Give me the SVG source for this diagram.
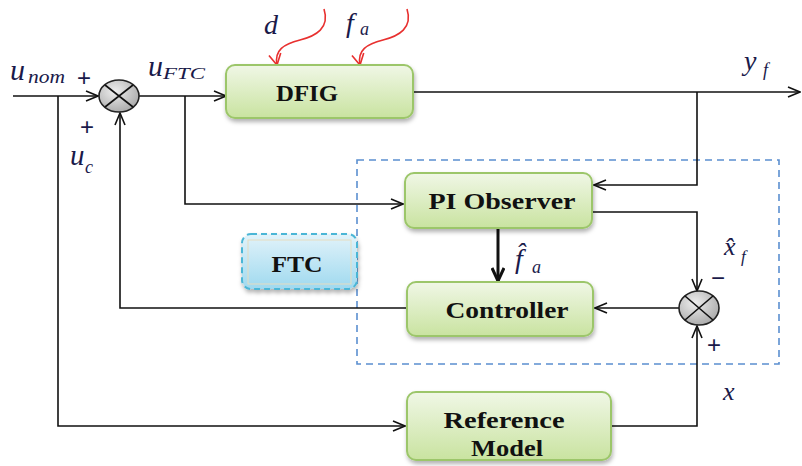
<svg xmlns="http://www.w3.org/2000/svg" width="802" height="466" viewBox="0 0 802 466">
<defs>
<linearGradient id="gGreen" x1="0" y1="0" x2="0" y2="1">
<stop offset="0" stop-color="#f0f7e6"/>
<stop offset="1" stop-color="#c9e3a0"/>
</linearGradient>
<linearGradient id="gBlue" x1="0" y1="0" x2="0" y2="1">
<stop offset="0" stop-color="#e2f3fa"/>
<stop offset="1" stop-color="#9fd9ef"/>
</linearGradient>
<radialGradient id="gGray" cx="0.4" cy="0.35" r="0.7">
<stop offset="0" stop-color="#eeeeee"/>
<stop offset="1" stop-color="#a8a8a8"/>
</radialGradient>
<filter id="sh" x="-10%" y="-10%" width="130%" height="140%">
<feDropShadow dx="1" dy="3" stdDeviation="2" flood-color="#000" flood-opacity="0.3"/>
</filter>
<marker id="arr" viewBox="0 0 14 12" refX="13" refY="6" markerWidth="14" markerHeight="12" markerUnits="userSpaceOnUse" orient="auto">
<path d="M1,1 L13,6 L1,11" fill="none" stroke="#111" stroke-width="1.6"/>
</marker>
<marker id="arrT" viewBox="0 0 16 14" refX="14" refY="7" markerWidth="16" markerHeight="14" markerUnits="userSpaceOnUse" orient="auto">
<path d="M1,1 L14,7 L1,13" fill="none" stroke="#111" stroke-width="3"/>
</marker>
<marker id="arrR" viewBox="0 0 14 14" refX="12" refY="7" markerWidth="14" markerHeight="14" markerUnits="userSpaceOnUse" orient="auto">
<path d="M1,1 L12,7 L1,13" fill="none" stroke="#e8302f" stroke-width="1.6"/>
</marker>
</defs>
<style>
.box{fill:url(#gGreen);stroke:#9cc66a;stroke-width:2;filter:url(#sh)}
.bt{font-family:"Liberation Serif","Times New Roman",serif;font-weight:bold;font-size:24px;fill:#111;text-anchor:middle}
.ln{fill:none;stroke:#111;stroke-width:1.6}
.m{font-family:"Liberation Serif","Times New Roman",serif;font-style:italic;fill:#1a1a4a}
.sgn{font-family:"Liberation Sans",sans-serif;fill:#1a1a4a;font-size:24px}
.sum{fill:url(#gGray);stroke:#222;stroke-width:1.6}
.red{fill:none;stroke:#e8302f;stroke-width:1.6}
</style>

<rect x="357" y="160" width="422" height="204" fill="none" stroke="#5b8fd0" stroke-width="1.6" stroke-dasharray="7,5"/>

<g id="connectors">
<path class="ln" d="M13,96 L98,96" marker-end="url(#arr)"/>
<path class="ln" d="M139,96 L226,96" marker-end="url(#arr)"/>
<path class="ln" d="M413,92 L800,92" marker-end="url(#arr)"/>
<path class="ln" d="M185,96 L185,204 L403,204" marker-end="url(#arr)"/>
<path class="ln" d="M697,92 L697,185 L594,185" marker-end="url(#arr)"/>
<path class="ln" d="M592,212 L697,212 L697,291" marker-end="url(#arr)"/>
<path class="ln" d="M679,308 L595,308" marker-end="url(#arr)"/>
<path class="ln" d="M407,308 L120,308 L120,113" marker-end="url(#arr)"/>
<path class="ln" d="M58,96 L58,426 L405,426" marker-end="url(#arr)"/>
<path class="ln" d="M611,426 L697,426 L697,326" marker-end="url(#arr)"/>
<path d="M498,228 L498,281" fill="none" stroke="#111" stroke-width="3" marker-end="url(#arrT)"/>
<path class="red" d="M324,9 C330,28 316,36 300,40 C284,44 274,50 277,65" marker-end="url(#arrR)"/>
<path class="red" d="M407,9 C413,28 399,36 383,40 C367,44 357,50 360,65" marker-end="url(#arrR)"/>
</g>

<g id="sum1">
<ellipse class="sum" cx="119" cy="96" rx="20" ry="16"/>
<path class="ln" d="M105,85 L133,107 M133,85 L105,107" stroke-width="1.3"/>
</g>
<g id="sum2">
<ellipse class="sum" cx="699" cy="308" rx="20" ry="17"/>
<path class="ln" d="M685,296 L713,320 M713,296 L685,320" stroke-width="1.3"/>
</g>

<g id="dfig">
<rect class="box" x="226" y="65" width="187" height="53" rx="9"/>
<text class="bt" x="307" y="101" textLength="62" lengthAdjust="spacingAndGlyphs">DFIG</text>
</g>
<g id="observer">
<rect class="box" x="405" y="173" width="187" height="55" rx="9"/>
<text class="bt" x="502" y="209" textLength="147" lengthAdjust="spacingAndGlyphs">PI Observer</text>
</g>
<g id="controller">
<rect class="box" x="407" y="282" width="186" height="54" rx="9"/>
<text class="bt" x="507" y="318" textLength="123" lengthAdjust="spacingAndGlyphs">Controller</text>
</g>
<g id="refmodel">
<rect class="box" x="407" y="392" width="204" height="68" rx="9"/>
<text class="bt" x="504" y="428" textLength="121" lengthAdjust="spacingAndGlyphs">Reference</text>
<text class="bt" x="507" y="456" textLength="72" lengthAdjust="spacingAndGlyphs">Model</text>
</g>
<g id="ftc">
<rect x="242" y="234" width="115" height="55" rx="9" fill="url(#gBlue)" stroke="#4bb6d6" stroke-width="2" stroke-dasharray="6,4" filter="url(#sh)"/>
<rect x="248" y="240" width="103" height="44" fill="none" stroke="#e6dcc0" stroke-width="1"/>
<text class="bt" x="297" y="272" textLength="51" lengthAdjust="spacingAndGlyphs">FTC</text>
</g>

<g id="labels">
<text class="m" x="10" y="80" font-size="30">u</text>
<text class="m" x="28" y="83" font-size="18" textLength="37" lengthAdjust="spacingAndGlyphs">nom</text>
<text class="sgn" x="77" y="86">+</text>
<text class="sgn" x="80" y="135">+</text>
<text class="m" x="70" y="165" font-size="29">u</text>
<text class="m" x="85" y="173" font-size="18">c</text>
<text class="m" x="148" y="76" font-size="30">u</text>
<text class="m" x="163" y="79" font-size="17" textLength="42" lengthAdjust="spacingAndGlyphs">FTC</text>
<text class="m" x="264" y="34" font-size="28">d</text>
<text class="m" x="346" y="32" font-size="28">f</text>
<text class="m" x="360" y="35" font-size="18">a</text>
<text class="m" x="744" y="70" font-size="28">y</text>
<text class="m" x="763" y="76" font-size="18">f</text>
<text class="m" x="724" y="255" font-size="26">x̂</text>
<text class="m" x="741" y="262" font-size="17">f</text>
<text class="sgn" x="711" y="286">−</text>
<text class="sgn" x="707" y="353">+</text>
<text class="m" x="723" y="400" font-size="26">x</text>
<text class="m" x="515" y="268" font-size="28">f̂</text>
<text class="m" x="532" y="273" font-size="18">a</text>
</g>
</svg>
